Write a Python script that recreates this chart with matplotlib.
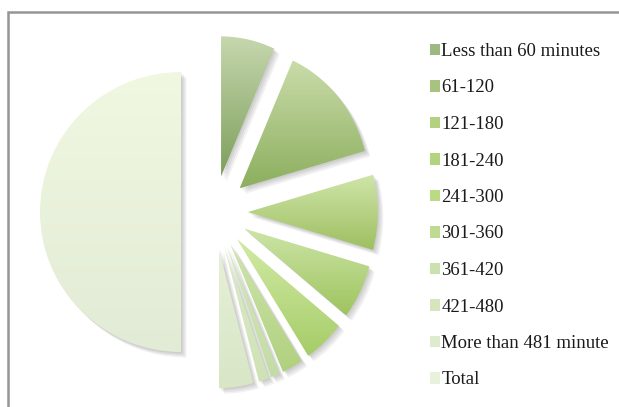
import numpy as np
import matplotlib
matplotlib.use("Agg")
import matplotlib.pyplot as plt
import matplotlib.patheffects as pe
from matplotlib.colors import LinearSegmentedColormap
from matplotlib.patches import Patch, Rectangle

# Share of trips by duration (percent of the total)
labels = ["Less than 60 minutes", "61-120", "121-180", "181-240", "241-300",
          "301-360", "361-420", "421-480", "More than 481 minute", "Total"]
shares = [13.4, 28.0, 17.3, 12.6, 10.2, 5.2, 2.2, 2.5, 8.6]
total = 100.0
values = shares + [total]

# gradient end colours per slice (light top, dark bottom)
top_colors = ["#c6d7ae", "#cadcaa", "#d0e5aa", "#cde5a8", "#d2eba6",
              "#cfe6ad", "#d5e8c0", "#dcebc8", "#e6f0d6", "#f0f8e2"]
bottom_colors = ["#7e9f5c", "#8caf5e", "#9dbf60", "#9ec45e", "#a6cc68",
                 "#b0d07e", "#c3dca3", "#cfe2b4", "#d8e6c6", "#e2ebd5"]

W, H = 619, 407
cx, cy = 214, 212


def draw_pie(ax, rx, ry, explode, keep):
    """Exploded pie with a vertical gradient in each kept wedge."""
    wedges, _ = ax.pie(values, startangle=90, counterclock=False,
                       explode=explode, radius=1, colors=bottom_colors)
    grad = np.linspace(0, 1, 256).reshape(-1, 1)
    shadow = [pe.SimplePatchShadow(offset=(o, -o), shadow_rgbFace="k", alpha=0.05)
              for o in (1, 2, 3, 4)]
    for i, (w, c_top, c_bot) in enumerate(zip(wedges, top_colors, bottom_colors)):
        if i not in keep:
            w.set_visible(False)
            continue
        w.set_facecolor("none")
        w.set_edgecolor("none")
        w.set_path_effects(shadow)
        w.set_zorder(1)
        ext = w.get_path().get_extents()
        cmap = LinearSegmentedColormap.from_list("g", [c_bot, c_top])
        ax.imshow(grad, extent=[ext.x0, ext.x1, ext.y0, ext.y1], origin="lower",
                  cmap=cmap, aspect="auto", clip_path=w, zorder=2,
                  interpolation="bilinear")
    ax.set_xlim(-cx / rx, (W - cx) / rx)
    ax.set_ylim(-(H - cy) / ry, cy / ry)
    ax.set_aspect("auto")
    ax.axis("off")


fig = plt.figure(figsize=(W / 100, H / 100), dpi=100)
fig.patches.append(Rectangle((8 / W, -0.1), 1.2, 1 - 12 / H + 0.1,
                             transform=fig.transFigure, facecolor="none",
                             edgecolor="#959595", linewidth=1.8, zorder=5))

n = len(shares)
# the total half
ax_t = fig.add_axes([0, 0, 1, 1])
ax_t.patch.set_visible(False)
draw_pie(ax_t, 141, 140, [0.0] * n + [0.234], keep=[n])

# the duration slices
ax_s = fig.add_axes([0, 0, 1, 1])
ax_s.patch.set_visible(False)
draw_pie(ax_s, 130, 140, [0.26] * n + [0.0], keep=list(range(n)))

mid_colors = [LinearSegmentedColormap.from_list("m", [b, t])(0.45)
              for t, b in zip(top_colors, bottom_colors)]
handles = [Patch(facecolor=c, edgecolor="none") for c in mid_colors]
fig.legend(handles, labels, loc="upper left", bbox_to_anchor=(430 / W, 1 - 43 / H),
           frameon=False, prop={"family": "Liberation Serif", "size": 13.5},
           handlelength=0.55, handleheight=0.55, handletextpad=0.06,
           labelspacing=1.04, borderaxespad=0, borderpad=0, labelcolor="#1a1a1a")

fig.savefig("out.png", dpi=100)
